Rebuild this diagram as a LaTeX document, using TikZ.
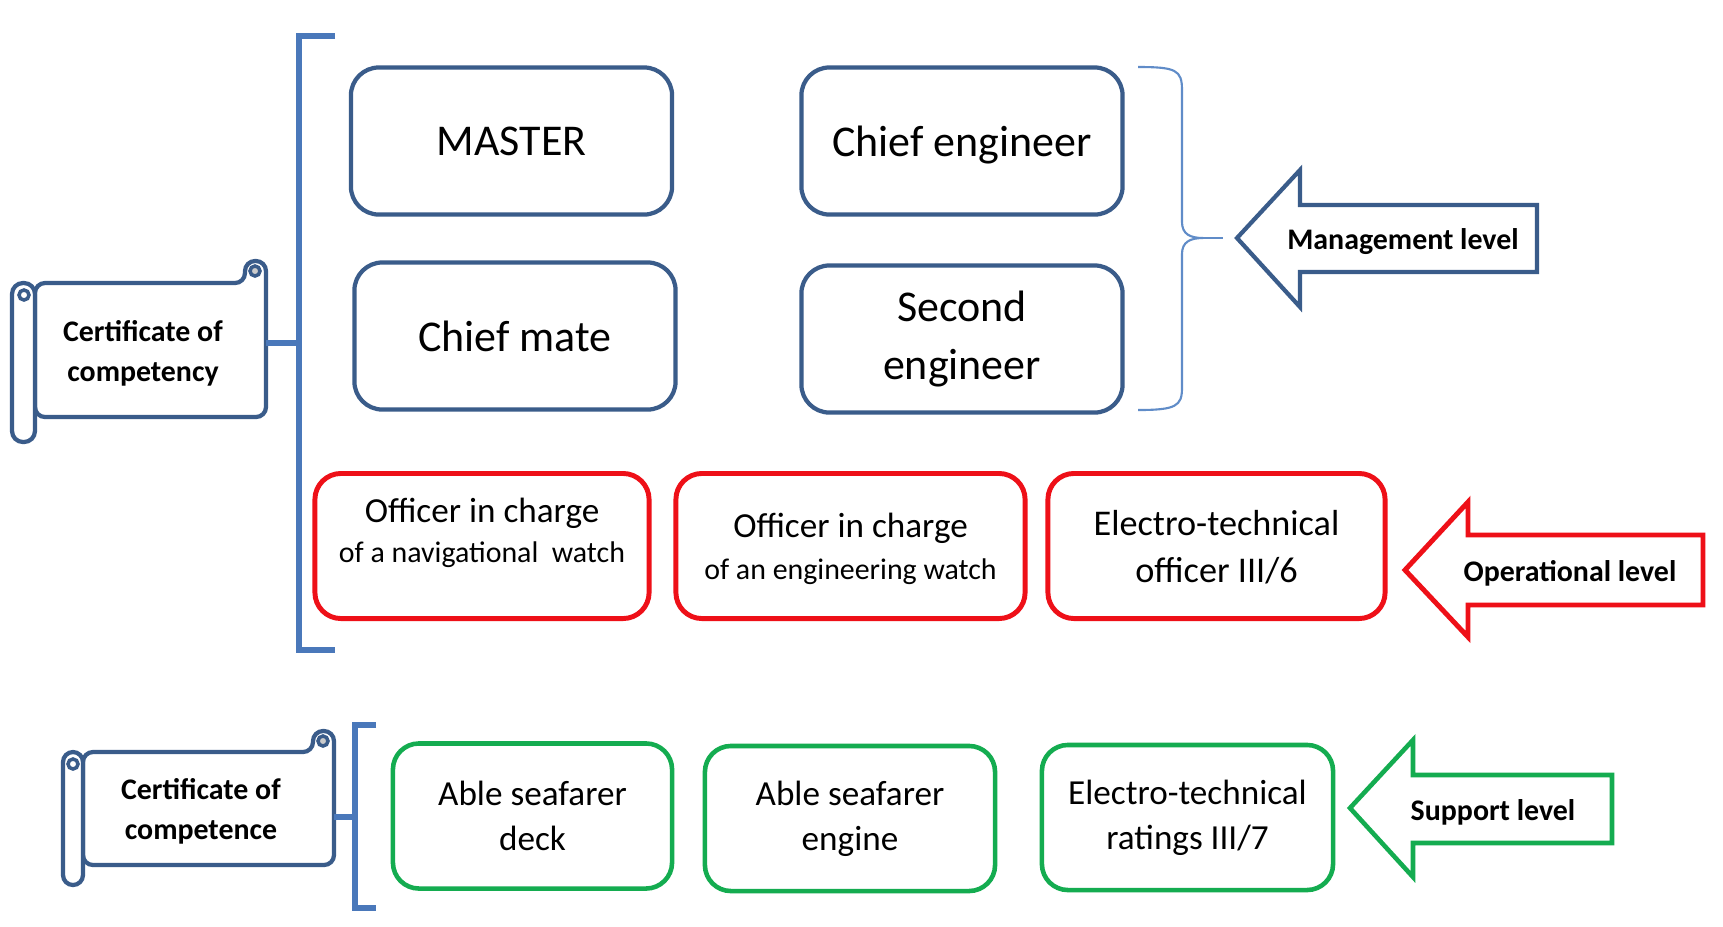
\documentclass[tikz,border=0pt]{standalone}
\usepackage{fontspec}
\setmainfont{Carlito}
\usepackage{xcolor}
\usetikzlibrary{positioning}
\definecolor{navy}{RGB}{58,92,138}
\definecolor{brkblue}{RGB}{74,120,186}
\definecolor{braceblue}{RGB}{96,140,200}
\definecolor{opred}{RGB}{238,16,24}
\definecolor{supgreen}{RGB}{20,172,80}
\tikzset{
    mgmt/.style={
        draw=navy,
        line width=1.2pt,
        rounded corners=0.28cm,
        minimum width=3.21cm,
        minimum height=1.47cm,
        align=center,
        font=\fontsize{12.5}{15}\selectfont
    },
    oper/.style={
        draw=opred,
        line width=1.4pt,
        rounded corners=0.26cm,
        minimum height=1.45cm
    },
    supp/.style={
        draw=supgreen,
        line width=1.3pt,
        rounded corners=0.26cm,
        minimum height=1.45cm,
        align=center,
        font=\fontsize{10}{12.8}\selectfont
    },
    scroll/.style={draw=navy, line width=1.2pt, fill=white},
    brk/.style={draw=brkblue, line width=1.7pt},
    lvlarrow/.style={line width=1.2pt, fill=white},
    lvltext/.style={font=\bfseries\fontsize{8.5}{10}\selectfont},
    certtext/.style={align=center, font=\bfseries\fontsize{8.5}{11.4}\selectfont}
}

\begin{document}
\begin{tikzpicture}[x=0.01cm, y=-0.01cm]
  \fill[white] (0,0) rectangle (1723,926);

  % Certificate of competency (scroll)
  \draw[scroll, rounded corners=0.1cm] (35,283) -- (245,283) -- (245,261) -- (266,261) -- (266,417) -- (35,417) -- cycle;
  \draw[scroll, rounded corners=0.11cm] (12,283) rectangle (35,442);
  \draw[navy, line width=1pt] (24,295) circle (0.05cm);
  \draw[navy, line width=1pt, fill=gray!40] (255,271) circle (0.05cm);
  \node[certtext] (certA) at (143,353) {Certificate of\\competency};

  % Certificate of competence (scroll)
  \draw[scroll, rounded corners=0.1cm] (83,752) -- (313,752) -- (313,731) -- (334,731) -- (334,865) -- (83,865) -- cycle;
  \draw[scroll, rounded corners=0.1cm] (63,752) rectangle (83,885);
  \draw[navy, line width=1pt] (73,764) circle (0.05cm);
  \draw[navy, line width=1pt, fill=gray!40] (323,741) circle (0.05cm);
  \node[certtext] (certB) at (201,811) {Certificate of\\competence};

  % Brackets
  \draw[brk] (335,36) -- (299,36) -- (299,650) -- (335,650);
  \draw[brk] (376,725) -- (355,725) -- (355,908) -- (376,908);
  \coordinate (certA-e) at (266,343);
  \coordinate (brkA) at (299,343);
  \coordinate (certB-e) at (334,817);
  \coordinate (brkB) at (355,817);
  \draw[brk] (certA-e) -- (brkA);
  \draw[brk] (certB-e) -- (brkB);

  % Management level
  \node[mgmt] (mstr) at (511.5,141) {MASTER};
  \node[mgmt, text depth=0pt] (ceng) at (962,141) {Chief engineer};
  \node[mgmt] (cmate) at (515,336) {Chief mate};
  \node[mgmt, font=\fontsize{12.5}{16.5}\selectfont] (seng) at (962,339) {Second\\engineer};

  % Brace
  \coordinate (brc) at (1223,238);
  \draw[braceblue, line width=0.6pt] (1138,67) .. controls (1176,67) and (1182,70) .. (1182,90) -- (1182,222)
    .. controls (1182,234) and (1190,238) .. (1203,238)
    .. controls (1190,238) and (1182,242) .. (1182,254) -- (1182,388)
    .. controls (1182,406) and (1176,410) .. (1138,410);
  \draw[braceblue, line width=0.6pt] (1203,238) -- (brc);

  % Operational level
  \node[oper, minimum width=3.34cm] (onav) at (482,546) {};
  \node[oper, minimum width=3.49cm] (oeng) at (850.5,546) {};
  \node[oper, minimum width=3.37cm] (eto) at (1216.5,546) {};
  \node[align=center, font=\fontsize{10}{11.4}\selectfont] (onav-t) at (482,533)
    {Officer in charge\\{\fontsize{8.5}{10}\selectfont of a navigational\ \ watch}};
  \node[align=center, font=\fontsize{10}{12}\selectfont] (oeng-t) at (850.5,549)
    {Officer in charge\\{\fontsize{8.5}{10}\selectfont of an engineering watch}};
  \node[align=center, font=\fontsize{10.3}{13.4}\selectfont] (eto-t) at (1216.5,547)
    {Electro-technical\\officer III/6};

  % Support level
  \node[supp, minimum width=2.79cm] (abd) at (532.5,816) {Able seafarer\\deck};
  \node[supp, minimum width=2.90cm] (abe) at (850,818.5) {Able seafarer\\engine};
  \node[supp, minimum width=2.91cm] (etr) at (1187.5,817.5) {Electro-technical\\ratings III/7};

  % Level arrows
  \draw[lvlarrow, draw=navy] (1237,238) -- (1300,170) -- (1300,205) -- (1537,205) -- (1537,272) -- (1300,272) -- (1300,307) -- cycle;
  \node[lvltext] (mlvl) at (1403,242) {Management level};
  \draw[lvlarrow, draw=opred, line width=1.4pt] (1405,570) -- (1468,502) -- (1468,535) -- (1703,535) -- (1703,605) -- (1468,605) -- (1468,637) -- cycle;
  \node[lvltext] (olvl) at (1570,573) {Operational level};
  \draw[lvlarrow, draw=supgreen, line width=1.3pt] (1350,808) -- (1413,740) -- (1413,775) -- (1612,775) -- (1612,843) -- (1413,843) -- (1413,877) -- cycle;
  \node[lvltext] (slvl) at (1493,812) {Support level};
\end{tikzpicture}
\end{document}
